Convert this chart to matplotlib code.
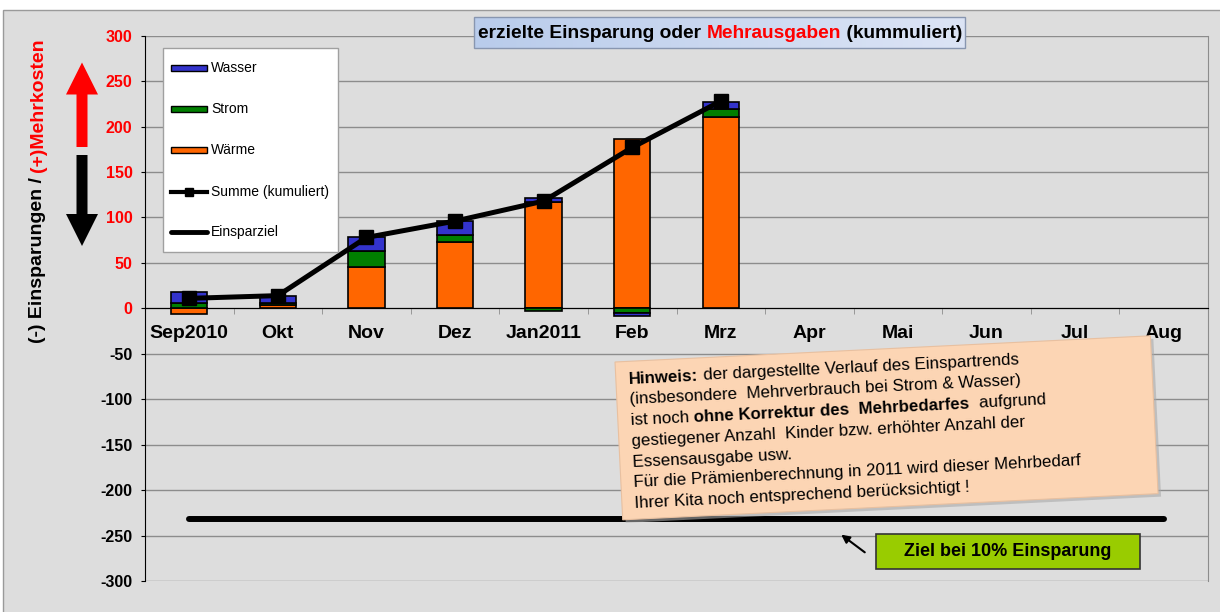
import numpy as np
import matplotlib
matplotlib.use('Agg')
from matplotlib import pyplot as plt
from matplotlib.patches import Rectangle, Polygon, FancyArrow
from matplotlib.lines import Line2D

plt.rcParams['font.family'] = ['Liberation Sans', 'DejaVu Sans']

MONTHS = ['Sep2010', 'Okt', 'Nov', 'Dez', 'Jan2011', 'Feb', 'Mrz',
          'Apr', 'Mai', 'Jun', 'Jul', 'Aug']
WAERME = [-6, 3.3, 45.5, 72.8, 117, 186, 211]
STROM = [6, 2.5, 18, 8.4, -2.5, -5.5, 8]
WASSER = [12, 8, 14.6, 15, 4, -3, 8.4]
SUMME = [11, 14, 78, 96, 118, 177, 228]
EINSPARZIEL = [-232, -232, -232, -232, -232, -232, -232, -232, -232, -232, -232, -232]
YTICKS = [-300, -250, -200, -150, -100, -50, 0, 50, 100, 150, 200, 250, 300]

SERIES = ['Wasser', 'Strom', 'Wärme']
COLORS = {'Wasser': '#3333CC', 'Strom': '#007F00', 'Wärme': '#FF6600'}

NOTE = [
    [('Hinweis:', 'bold'), (' der dargestellte Verlauf des Einspartrends', 'normal')],
    [('(insbesondere  Mehrverbrauch bei Strom & Wasser)', 'normal')],
    [('ist noch ', 'normal'), ('ohne Korrektur des  Mehrbedarfes', 'bold'), ('  aufgrund', 'normal')],
    [('gestiegener Anzahl  Kinder bzw. erhöhter Anzahl der', 'normal')],
    [('Essensausgabe usw.', 'normal')],
    [('Für die Prämienberechnung in 2011 wird dieser Mehrbedarf', 'normal')],
    [('Ihrer Kita noch entsprechend berücksichtigt !', 'normal')],
]

W, H, DPI = 1220, 612, 100
GRAY = '#DDDDDD'

fig = plt.figure(figsize=(W / DPI, H / DPI), dpi=DPI, facecolor='white')
fig.add_artist(Rectangle((3 / W, -0.01), 1.02, (H - 10) / H + 0.01, transform=fig.transFigure,
                         facecolor=GRAY, edgecolor='#9a9a9a', lw=1, zorder=-5))

ax = fig.add_axes([145 / W, 1 - 581 / H, (1208 - 145) / W, (581 - 35.7) / H])
ax.set_facecolor(GRAY)
ax.spines['bottom'].set_position(('data', 0))
ax.spines['bottom'].set_color('black')
ax.spines['left'].set_color('black')
ax.spines['top'].set_visible(False)
ax.spines['right'].set_color('#8c8c8c')

# stacked bars, positives up and negatives down
x = np.arange(len(WAERME))
pos = np.zeros(len(x))
neg = np.zeros(len(x))
for vals, name in [(WAERME, 'Wärme'), (STROM, 'Strom'), (WASSER, 'Wasser')]:
    v = np.array(vals, dtype=float)
    bottom = np.where(v >= 0, pos, neg)
    ax.bar(x, v, 0.41, bottom=bottom, color=COLORS[name], edgecolor='black',
           linewidth=1.2, zorder=3)
    pos += np.where(v >= 0, v, 0)
    neg += np.where(v < 0, v, 0)

ax.plot(x, SUMME, color='black', lw=3.6, marker='s', ms=9.5, zorder=4)
ax.plot(np.arange(len(MONTHS)), EINSPARZIEL, color='black', lw=4.3,
        solid_capstyle='round', zorder=4)

ax.set_xlim(-0.5, len(MONTHS) - 0.5)
ax.set_ylim(-300, 300)
ax.set_yticks(YTICKS)
ax.yaxis.grid(True, color='#8c8c8c', lw=1)
ax.set_axisbelow(True)

ax.set_xticks(np.arange(len(MONTHS)))
ax.set_xticks(np.arange(len(MONTHS) + 1) - 0.5, minor=True)
ax.set_xticklabels(MONTHS, fontsize=14, fontweight='bold')
ax.tick_params(axis='x', which='major', length=0, pad=12)
ax.tick_params(axis='x', which='minor', length=4, color='#8c8c8c', direction='out')
ax.tick_params(axis='y', length=3, pad=6, color='black')
for lab, val in zip(ax.set_yticklabels([str(t) for t in YTICKS]), YTICKS):
    lab.set_fontsize(11.5)
    lab.set_fontweight('bold')
    lab.set_color('red' if val >= 0 else 'black')

# overlay in pixel coordinates for the annotations
ov = fig.add_axes([0, 0, 1, 1], zorder=10)
ov.set_xlim(0, W)
ov.set_ylim(H, 0)
ov.axis('off')
ov.patch.set_alpha(0)

renderer = fig.canvas.get_renderer()


def advance(s, size, weight):
    t = ov.text(0, 0, s + '|', fontsize=size, fontweight=weight)
    t2 = ov.text(0, 0, '|', fontsize=size, fontweight=weight)
    w = t.get_window_extent(renderer).width - t2.get_window_extent(renderer).width
    t.remove()
    t2.remove()
    return w


# title box
grad = np.linspace(0, 1, 256).reshape(1, -1)
ov.imshow(grad, extent=(474, 965, 48, 17), aspect='auto', zorder=1,
          cmap=matplotlib.colors.LinearSegmentedColormap.from_list('t', ['#B9CCEB', '#DCE4F5']))
ov.add_patch(Rectangle((474, 17), 491, 31, fill=False, edgecolor='#8896B0', lw=1, zorder=2))
ov.set_xlim(0, W)
ov.set_ylim(H, 0)
tx = 478
for s, c in [('erzielte Einsparung oder ', 'black'), ('Mehrausgaben', 'red'),
             (' (kummuliert)', 'black')]:
    ov.text(tx, 33, s, fontsize=13.8, fontweight='bold', color=c, va='center', ha='left', zorder=3)
    tx += advance(s, 13.8, 'bold')

# y label in two colours
yl = 343
for s, c in [('(-) Einsparungen / ', 'black'), ('(+)Mehrkosten', 'red')]:
    ov.text(38, yl, s, fontsize=14, fontweight='bold', color=c, rotation=90,
            rotation_mode='anchor', ha='left', va='center')
    yl -= advance(s, 14, 'bold')

# up/down arrows
ov.add_patch(FancyArrow(82, 147, 0, -84.5, width=11, head_width=32, head_length=32,
                        length_includes_head=True, color='red', lw=0))
ov.add_patch(FancyArrow(82, 155, 0, 91, width=11, head_width=32, head_length=32,
                        length_includes_head=True, color='black', lw=0))

# legend
ov.add_patch(Rectangle((163, 48), 175, 204, facecolor='white', edgecolor='#a0a0a0', lw=1))
rows = [68, 109, 150, 192, 232]
for name, yy in zip(SERIES, rows[:3]):
    ov.add_patch(Rectangle((171, yy - 3), 36, 6, facecolor=COLORS[name], edgecolor='black', lw=1))
    ov.text(211, yy, name, fontsize=10, va='center')
ov.add_line(Line2D([171, 207], [rows[3], rows[3]], color='black', lw=3))
ov.add_line(Line2D([189], [rows[3]], color='black', marker='s', ms=5.5))
ov.text(211, rows[3], 'Summe (kumuliert)', fontsize=10, va='center')
ov.add_line(Line2D([171, 207], [rows[4], rows[4]], color='black', lw=3.5, solid_capstyle='round'))
ov.text(211, rows[4], 'Einsparziel', fontsize=10, va='center')

# note box (slightly rotated)
ang = np.deg2rad(2.8)
along = np.array([np.cos(ang), -np.sin(ang)])
down = np.array([np.sin(ang), np.cos(ang)])
tl = np.array([615, 362])
bw, bh = 536, 158
corners = [tl, tl + bw * along, tl + bw * along + bh * down, tl + bh * down]
ov.add_patch(Polygon([c + np.array([3, 3]) for c in corners], closed=True,
                     facecolor='#AAAAAA', edgecolor='none', alpha=0.6, zorder=3))
ov.add_patch(Polygon(corners, closed=True, facecolor='#FCD5B4', edgecolor='#E8C0A0',
                     lw=0.8, zorder=4))
start = np.array([629.0, 383.5])
for i, line in enumerate(NOTE):
    p = start + i * 20.8 * down
    for s, wgt in line:
        ov.text(p[0], p[1], s, fontsize=12.2, fontweight=wgt, rotation=np.rad2deg(ang),
                rotation_mode='anchor', ha='left', va='baseline', zorder=5)
        p = p + advance(s, 12.2, wgt) * along

# target box
ov.add_patch(Rectangle((876, 534), 264, 35, facecolor='#99CC00', edgecolor='#333333', lw=1.2))
ov.text(1008, 552, 'Ziel bei 10% Einsparung', fontsize=13, fontweight='bold',
        ha='center', va='center')
ov.annotate('', xy=(839, 533), xytext=(867, 554),
            arrowprops=dict(arrowstyle='-|>', color='black', lw=1.5, mutation_scale=12))

fig.savefig('out.png', dpi=DPI, facecolor=fig.get_facecolor())
